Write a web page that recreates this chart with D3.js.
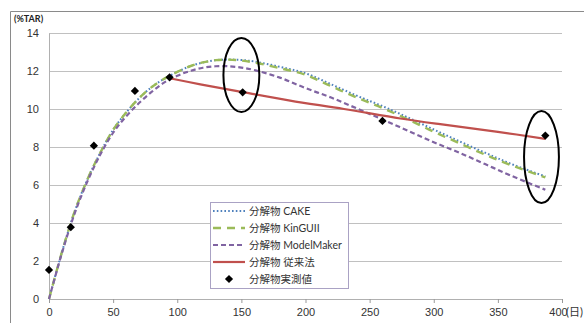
<html>
<head>
<meta charset="utf-8">
<style>
  body { margin:0; background:#fff; }
  svg { display:block; font-family: Lato, "Noto Sans CJK JP", sans-serif; }
  .tick text { fill:#333; font-size:11px; }
</style>
</head>
<body>
<svg></svg>
<script src="https://d3js.org/d3.v7.min.js"></script>
<script>
const width = 584, height = 323;

// curve samples (days, %TAR)
const days = [0, 10, 20, 30, 40, 50, 60, 70, 80, 90, 100, 110, 120, 130, 140, 150, 160, 180, 200, 220, 240, 260, 280, 300, 320, 340, 360, 387];
const cake      = [0, 2.45, 4.6, 6.3, 7.7, 8.9, 9.8, 10.55, 11.15, 11.6, 11.95, 12.25, 12.45, 12.57, 12.6, 12.58, 12.5, 12.22, 11.88, 11.3, 10.7, 10.15, 9.55, 8.92, 8.3, 7.7, 7.12, 6.45];
const kinguii   = [0, 2.45, 4.6, 6.3, 7.7, 8.9, 9.8, 10.55, 11.15, 11.6, 11.95, 12.25, 12.45, 12.57, 12.6, 12.55, 12.45, 12.15, 11.8, 11.2, 10.6, 10.05, 9.45, 8.8, 8.2, 7.6, 7.05, 6.4];
const modelmaker= [0, 2.4, 4.5, 6.2, 7.6, 8.75, 9.6, 10.3, 10.9, 11.4, 11.75, 12.0, 12.17, 12.25, 12.25, 12.18, 12.05, 11.65, 11.1, 10.6, 10.03, 9.45, 8.85, 8.25, 7.7, 7.1, 6.5, 5.75];

const convDays = [94, 118, 150, 188, 230, 274, 305, 350, 387];
const conv     = [11.62, 11.3, 10.9, 10.44, 10.0, 9.5, 9.2, 8.8, 8.43];

const obsDays = [0, 17, 35, 67, 94, 151, 260, 387];
const obs     = [1.53, 3.78, 8.07, 10.95, 11.67, 10.88, 9.37, 8.6];

// annotation ellipses: centre day, centre value, half width (days), half height (%TAR)
const ellipses = [[150, 11.79, 14, 1.95], [384, 7.47, 13.6, 2.42]];

const xTicks = [0, 50, 100, 150, 200, 250, 300, 350, 400];
const yTicks = [0, 2, 4, 6, 8, 10, 12, 14];

const svg = d3.select("svg").attr("width", width).attr("height", height);

const x = d3.scaleLinear().domain([0, 400]).range([49, 562]);
const y = d3.scaleLinear().domain([0, 14]).range([299, 33]);

// outer chart frame (cropped)
svg.append("path")
    .attr("d", `M10.5,${height} V11.5 H${width}`)
    .attr("fill", "none").attr("stroke", "#8a8a8a").attr("stroke-width", 1);

// gridlines
svg.append("g").selectAll("line")
    .data(yTicks.slice(1))
    .join("line")
    .attr("x1", x(0)).attr("x2", x(400))
    .attr("y1", d => Math.round(y(d)) + 0.5).attr("y2", d => Math.round(y(d)) + 0.5)
    .attr("stroke", "#c0c0c0").attr("stroke-width", 1.2);

// axes
const gy = svg.append("g")
    .attr("transform", `translate(${x(0)},0)`)
    .call(d3.axisLeft(y).tickValues(yTicks).tickSize(0).tickPadding(10));
gy.select(".domain").attr("stroke", "#b0b0b0");

const gx = svg.append("g")
    .attr("transform", `translate(0,${y(0)})`)
    .call(d3.axisBottom(x).tickValues(xTicks).tickSize(4).tickPadding(5));
gx.select(".domain").attr("stroke", "#b0b0b0");
gx.selectAll(".tick line").attr("stroke", "#999");
gx.selectAll(".tick text").filter(d => d === 400).attr("dx", -4);

svg.append("text").attr("x", 14).attr("y", 22)
    .attr("font-size", 9).attr("font-weight", "bold").attr("fill", "#222")
    .text("(%TAR)");
svg.append("text").attr("x", 566).attr("y", 316)
    .attr("font-size", 11).attr("fill", "#333")
    .text("(日)");

const line = d3.line().x(d => x(d[0])).y(d => y(d[1])).curve(d3.curveCatmullRom);

const series = [
  {name: "分解物 CAKE",       xs: days, ys: cake,       color: "#4F81BD", dash: "1.6,2.2", w: 2},
  {name: "分解物 KinGUII",    xs: days, ys: kinguii,    color: "#9BBB59", dash: "8,6",     w: 2.4},
  {name: "分解物 ModelMaker", xs: days, ys: modelmaker, color: "#8064A2", dash: "5,3",     w: 2.2},
  {name: "分解物 従来法",     xs: convDays, ys: conv,   color: "#C0504D", dash: null,      w: 2.2}
];

series.forEach(s => {
  svg.append("path")
      .datum(s.xs.map((d, i) => [d, s.ys[i]]))
      .attr("d", line)
      .attr("fill", "none")
      .attr("stroke", s.color)
      .attr("stroke-width", s.w)
      .attr("stroke-dasharray", s.dash);
});

const diamond = d3.symbol().type(d3.symbolSquare).size(34);
svg.append("g").selectAll("path")
    .data(obsDays.map((d, i) => [d, obs[i]]))
    .join("path")
    .attr("d", diamond)
    .attr("transform", d => `translate(${x(d[0])},${y(d[1])}) rotate(45)`)
    .attr("fill", "#000");

svg.append("g").selectAll("ellipse")
    .data(ellipses)
    .join("ellipse")
    .attr("cx", d => x(d[0])).attr("cy", d => y(d[1]))
    .attr("rx", d => x(d[2]) - x(0)).attr("ry", d => y(0) - y(d[3]))
    .attr("fill", "none").attr("stroke", "#000").attr("stroke-width", 2);

// legend
const lg = svg.append("g").attr("transform", "translate(210,202)");
lg.append("rect").attr("x", 0.5).attr("y", 0.5).attr("width", 138).attr("height", 86)
    .attr("fill", "#fff").attr("stroke", "#aaa2c4");
const items = series.concat([{name: "分解物実測値", marker: true}]);
items.forEach((s, i) => {
  const yy = 9 + i * 17;
  if (s.marker) {
    lg.append("path").attr("d", diamond)
        .attr("transform", `translate(19,${yy}) rotate(45)`).attr("fill", "#000");
  } else {
    lg.append("line").attr("x1", 3).attr("x2", 35).attr("y1", yy).attr("y2", yy)
        .attr("stroke", s.color).attr("stroke-width", s.w).attr("stroke-dasharray", s.dash);
  }
  lg.append("text").attr("x", 39).attr("y", yy).attr("dy", "0.35em")
      .attr("font-size", 10.5).attr("fill", "#333").text(s.name);
});
</script>
</body>
</html>
